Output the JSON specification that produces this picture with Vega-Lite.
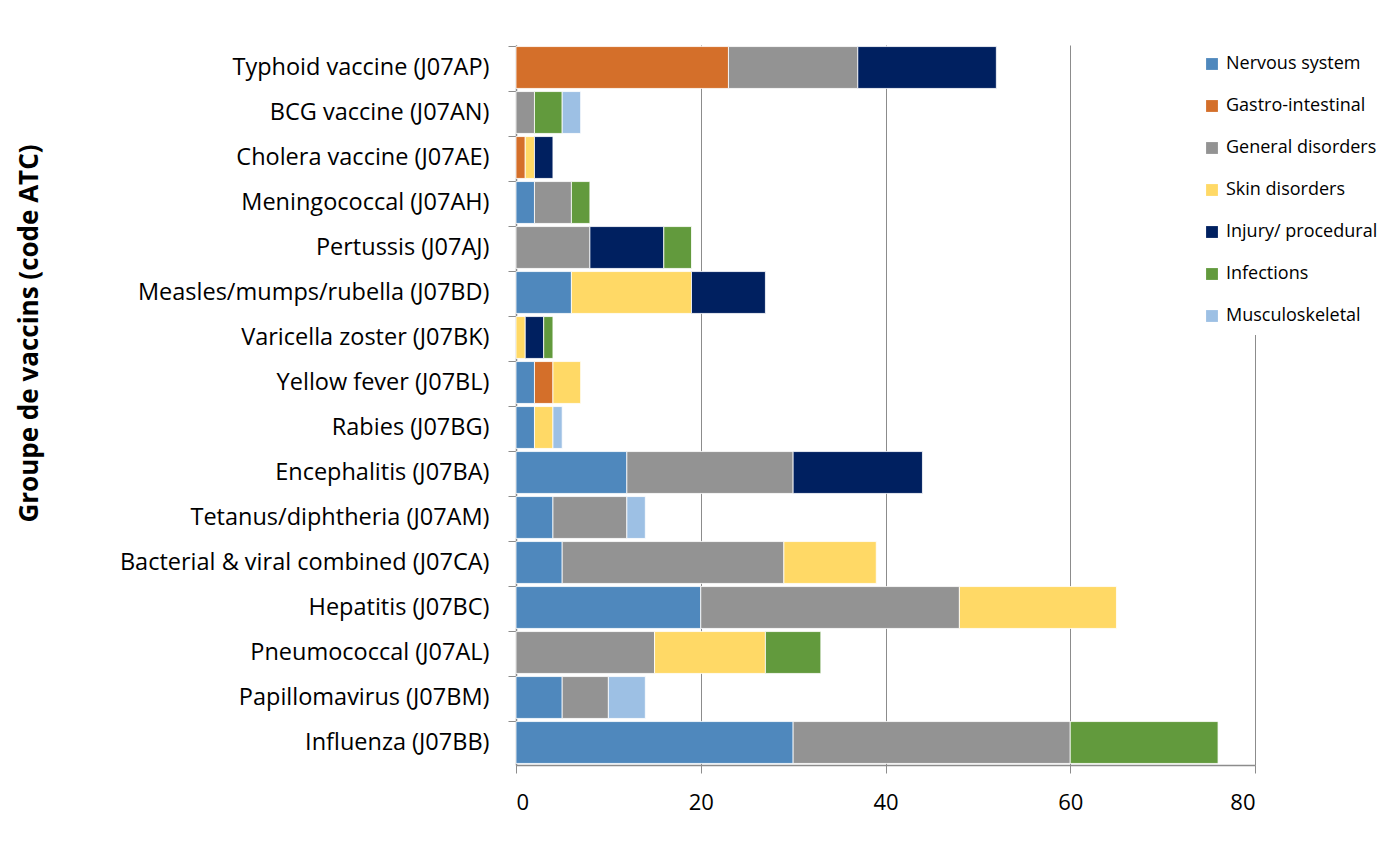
{
  "$schema": "https://vega.github.io/schema/vega-lite/v6.json",
  "autosize": "none",
  "width": 739,
  "height": 720,
  "padding": {"left": 516, "top": 45, "right": 142, "bottom": 80},
  "background": "white",
  "config": {
    "font": "Open Sans",
    "view": {"stroke": null},
    "axis": {"labelFont": "Open Sans", "titleFont": "Open Sans"},
    "legend": {"labelFont": "Open Sans"}
  },
  "data": {
    "values": [
      {"vaccine": "Typhoid vaccine (J07AP)", "soc": "Gastro-intestinal", "n": 23},
      {"vaccine": "Typhoid vaccine (J07AP)", "soc": "General disorders", "n": 14},
      {"vaccine": "Typhoid vaccine (J07AP)", "soc": "Injury/ procedural", "n": 15},
      {"vaccine": "BCG vaccine (J07AN)", "soc": "General disorders", "n": 2},
      {"vaccine": "BCG vaccine (J07AN)", "soc": "Infections", "n": 3},
      {"vaccine": "BCG vaccine (J07AN)", "soc": "Musculoskeletal", "n": 2},
      {"vaccine": "Cholera vaccine (J07AE)", "soc": "Gastro-intestinal", "n": 1},
      {"vaccine": "Cholera vaccine (J07AE)", "soc": "Skin disorders", "n": 1},
      {"vaccine": "Cholera vaccine (J07AE)", "soc": "Injury/ procedural", "n": 2},
      {"vaccine": "Meningococcal (J07AH)", "soc": "Nervous system", "n": 2},
      {"vaccine": "Meningococcal (J07AH)", "soc": "General disorders", "n": 4},
      {"vaccine": "Meningococcal (J07AH)", "soc": "Infections", "n": 2},
      {"vaccine": "Pertussis (J07AJ)", "soc": "General disorders", "n": 8},
      {"vaccine": "Pertussis (J07AJ)", "soc": "Injury/ procedural", "n": 8},
      {"vaccine": "Pertussis (J07AJ)", "soc": "Infections", "n": 3},
      {"vaccine": "Measles/mumps/rubella (J07BD)", "soc": "Nervous system", "n": 6},
      {"vaccine": "Measles/mumps/rubella (J07BD)", "soc": "Skin disorders", "n": 13},
      {"vaccine": "Measles/mumps/rubella (J07BD)", "soc": "Injury/ procedural", "n": 8},
      {"vaccine": "Varicella zoster (J07BK)", "soc": "Skin disorders", "n": 1},
      {"vaccine": "Varicella zoster (J07BK)", "soc": "Injury/ procedural", "n": 2},
      {"vaccine": "Varicella zoster (J07BK)", "soc": "Infections", "n": 1},
      {"vaccine": "Yellow fever (J07BL)", "soc": "Nervous system", "n": 2},
      {"vaccine": "Yellow fever (J07BL)", "soc": "Gastro-intestinal", "n": 2},
      {"vaccine": "Yellow fever (J07BL)", "soc": "Skin disorders", "n": 3},
      {"vaccine": "Rabies (J07BG)", "soc": "Nervous system", "n": 2},
      {"vaccine": "Rabies (J07BG)", "soc": "Skin disorders", "n": 2},
      {"vaccine": "Rabies (J07BG)", "soc": "Musculoskeletal", "n": 1},
      {"vaccine": "Encephalitis (J07BA)", "soc": "Nervous system", "n": 12},
      {"vaccine": "Encephalitis (J07BA)", "soc": "General disorders", "n": 18},
      {"vaccine": "Encephalitis (J07BA)", "soc": "Injury/ procedural", "n": 14},
      {"vaccine": "Tetanus/diphtheria (J07AM)", "soc": "Nervous system", "n": 4},
      {"vaccine": "Tetanus/diphtheria (J07AM)", "soc": "General disorders", "n": 8},
      {"vaccine": "Tetanus/diphtheria (J07AM)", "soc": "Musculoskeletal", "n": 2},
      {"vaccine": "Bacterial & viral combined (J07CA)", "soc": "Nervous system", "n": 5},
      {"vaccine": "Bacterial & viral combined (J07CA)", "soc": "General disorders", "n": 24},
      {"vaccine": "Bacterial & viral combined (J07CA)", "soc": "Skin disorders", "n": 10},
      {"vaccine": "Hepatitis (J07BC)", "soc": "Nervous system", "n": 20},
      {"vaccine": "Hepatitis (J07BC)", "soc": "General disorders", "n": 28},
      {"vaccine": "Hepatitis (J07BC)", "soc": "Skin disorders", "n": 17},
      {"vaccine": "Pneumococcal (J07AL)", "soc": "General disorders", "n": 15},
      {"vaccine": "Pneumococcal (J07AL)", "soc": "Skin disorders", "n": 12},
      {"vaccine": "Pneumococcal (J07AL)", "soc": "Infections", "n": 6},
      {"vaccine": "Papillomavirus (J07BM)", "soc": "Nervous system", "n": 5},
      {"vaccine": "Papillomavirus (J07BM)", "soc": "General disorders", "n": 5},
      {"vaccine": "Papillomavirus (J07BM)", "soc": "Musculoskeletal", "n": 4},
      {"vaccine": "Influenza (J07BB)", "soc": "Nervous system", "n": 30},
      {"vaccine": "Influenza (J07BB)", "soc": "General disorders", "n": 30},
      {"vaccine": "Influenza (J07BB)", "soc": "Infections", "n": 16}
    ]
  },
  "transform": [
    {"calculate": "indexof(['Nervous system', 'Gastro-intestinal', 'General disorders', 'Skin disorders', 'Injury/ procedural', 'Infections', 'Musculoskeletal'], datum.soc)", "as": "socOrder"}
  ],
  "mark": {"type": "bar", "stroke": "white", "strokeWidth": 0.8},
  "encoding": {
    "y": {
      "field": "vaccine",
      "type": "nominal",
      "sort": ["Typhoid vaccine (J07AP)", "BCG vaccine (J07AN)", "Cholera vaccine (J07AE)", "Meningococcal (J07AH)", "Pertussis (J07AJ)", "Measles/mumps/rubella (J07BD)", "Varicella zoster (J07BK)", "Yellow fever (J07BL)", "Rabies (J07BG)", "Encephalitis (J07BA)", "Tetanus/diphtheria (J07AM)", "Bacterial & viral combined (J07CA)", "Hepatitis (J07BC)", "Pneumococcal (J07AL)", "Papillomavirus (J07BM)", "Influenza (J07BB)"],
      "scale": {"paddingInner": 0.07, "paddingOuter": 0.035},
      "axis": {
        "title": "Groupe de vaccins (code ATC)",
        "titleFontSize": 26,
        "titleFontWeight": "bold",
        "titleColor": "black",
        "titleX": -487,
        "titleY": 288,
        "titleBaseline": "middle",
        "labelFontSize": 23.5,
        "labelColor": "black",
        "labelPadding": 19,
        "labelLimit": 500,
        "tickSize": 8,
        "tickColor": "#8c8c8c",
        "bandPosition": 0,
        "domainColor": "#8c8c8c",
        "domainWidth": 1.5,
        "grid": false
      }
    },
    "x": {
      "field": "n",
      "type": "quantitative",
      "stack": "zero",
      "scale": {"domain": [0, 80]},
      "axis": {
        "title": null,
        "values": [0, 20, 40, 60, 80],
        "labelFontSize": 22,
        "labelColor": "black",
        "labelPadding": 19,
        "tickSize": 8,
        "tickColor": "#8c8c8c",
        "domainColor": "#8c8c8c",
        "domainWidth": 1.5,
        "grid": true,
        "gridColor": "#8c8c8c",
        "gridWidth": 1
      }
    },
    "color": {
      "field": "soc",
      "type": "nominal",
      "scale": {
        "domain": ["Nervous system", "Gastro-intestinal", "General disorders", "Skin disorders", "Injury/ procedural", "Infections", "Musculoskeletal"],
        "range": ["#4F88BD", "#D46F2A", "#939393", "#FFD966", "#002060", "#629A3D", "#9DC0E4"]
      },
      "legend": {
        "title": null,
        "orient": "none",
        "legendX": 677,
        "legendY": 0,
        "fillColor": "white",
        "padding": 10,
        "symbolType": "square",
        "symbolSize": 140,
        "symbolStrokeWidth": 0,
        "labelFontSize": 18,
        "labelColor": "black",
        "labelOffset": 5,
        "labelLimit": 300,
        "rowPadding": 24
      }
    },
    "order": {"field": "socOrder", "type": "quantitative", "sort": "ascending"}
  }
}
